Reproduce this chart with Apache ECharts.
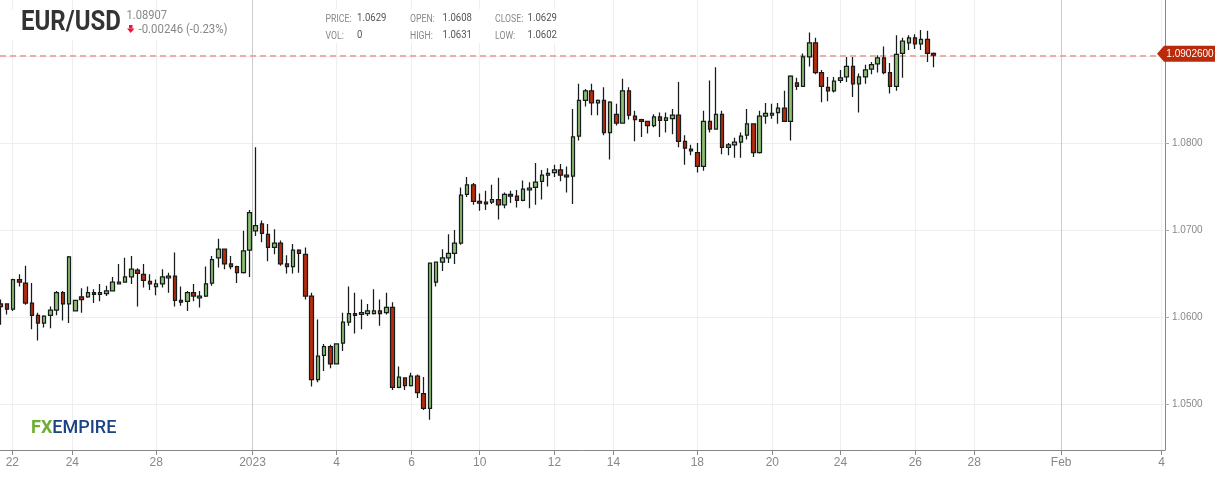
<!DOCTYPE html>
<html>
<head>
<meta charset="utf-8">
<style>html,body{margin:0;padding:0;background:#fff}#chart{width:1215px;height:480px}</style>
<script src="https://cdn.jsdelivr.net/npm/echarts@6/dist/echarts.min.js"></script>
</head>
<body>
<div id="chart"></div>
<script>
// candle values, left to right, one candle every 4 hours
const opens = [
  1.0615,1.0615,1.0609,1.0643,1.0639,1.0616,1.0602,1.0593,1.0602,1.0608,
  1.0628,1.0615,1.0607,1.0623,1.0623,1.0628,1.0626,1.0627,1.0630,1.0638,
  1.0640,1.0646,1.0654,1.0649,1.0641,1.0635,1.0638,1.0645,1.0647,1.0619,
  1.0618,1.0628,1.0622,1.0624,1.0639,1.0668,1.0678,1.0661,1.0658,1.0651,
  1.0677,1.0699,1.0707,1.0695,1.0680,1.0685,1.0661,1.0658,1.0677,1.0672,
  1.0624,1.0528,1.0556,1.0566,1.0546,1.0570,1.0594,1.0604,1.0603,1.0604,
  1.0604,1.0607,1.0605,1.0611,1.0519,1.0530,1.0521,1.0532,1.0512,1.0495,
  1.0640,1.0663,1.0668,1.0673,1.0685,1.0741,1.0752,1.0733,1.0732,1.0732,
  1.0735,1.0729,1.0741,1.0739,1.0734,1.0746,1.0749,1.0756,1.0763,1.0766,
  1.0769,1.0763,1.0762,1.0808,1.0849,1.0860,1.0846,1.0849,1.0812,1.0833,
  1.0823,1.0860,1.0831,1.0827,1.0825,1.0820,1.0830,1.0826,1.0828,1.0832,
  1.0802,1.0793,1.0789,1.0773,1.0825,1.0816,1.0833,1.0795,1.0798,1.0801,
  1.0809,1.0822,1.0789,1.0831,1.0832,1.0835,1.0840,1.0825,1.0869,1.0865,
  1.0899,1.0915,1.0881,1.0864,1.0860,1.0872,1.0876,1.0888,1.0868,1.0876,
  1.0885,1.0891,1.0898,1.0881,1.0865,1.0903,1.0915,1.0921,1.0914,1.0919,1.0903
];
const closes = [
  1.0612,1.0609,1.0643,1.0640,1.0616,1.0602,1.0593,1.0601,1.0608,1.0628,
  1.0615,1.0669,1.0619,1.0620,1.0628,1.0626,1.0628,1.0630,1.0640,1.0640,
  1.0646,1.0655,1.0650,1.0642,1.0638,1.0638,1.0646,1.0647,1.0619,1.0617,
  1.0628,1.0624,1.0624,1.0638,1.0666,1.0678,1.0661,1.0658,1.0651,1.0676,
  1.0720,1.0705,1.0696,1.0680,1.0685,1.0661,1.0658,1.0677,1.0673,1.0624,
  1.0528,1.0555,1.0566,1.0546,1.0569,1.0594,1.0604,1.0602,1.0605,1.0607,
  1.0607,1.0604,1.0611,1.0519,1.0531,1.0521,1.0532,1.0513,1.0495,1.0662,
  1.0663,1.0668,1.0673,1.0685,1.0740,1.0752,1.0733,1.0731,1.0730,1.0735,
  1.0729,1.0741,1.0739,1.0734,1.0747,1.0748,1.0755,1.0763,1.0765,1.0769,
  1.0763,1.0761,1.0807,1.0849,1.0860,1.0846,1.0849,1.0812,1.0847,1.0823,
  1.0860,1.0832,1.0827,1.0825,1.0820,1.0830,1.0826,1.0829,1.0832,1.0802,
  1.0794,1.0791,1.0773,1.0825,1.0816,1.0833,1.0795,1.0798,1.0801,1.0808,
  1.0822,1.0789,1.0831,1.0834,1.0834,1.0840,1.0825,1.0877,1.0865,1.0899,
  1.0915,1.0881,1.0865,1.0860,1.0871,1.0875,1.0888,1.0868,1.0876,1.0884,
  1.0890,1.0898,1.0881,1.0865,1.0902,1.0917,1.0921,1.0914,1.0919,1.0903,1.0901
];
const lows = [
  1.0591,1.0603,1.0607,1.0635,1.0614,1.0586,1.0573,1.0588,1.0587,1.0602,
  1.0596,1.0593,1.0607,1.0605,1.0622,1.0616,1.0618,1.0624,1.0630,1.0638,
  1.0640,1.0638,1.0612,1.0634,1.0631,1.0625,1.0634,1.0628,1.0612,1.0613,
  1.0607,1.0618,1.0611,1.0623,1.0636,1.0657,1.0655,1.0655,1.0639,1.0650,
  1.0646,1.0693,1.0686,1.0664,1.0672,1.0659,1.0650,1.0650,1.0651,1.0620,
  1.0520,1.0525,1.0538,1.0541,1.0546,1.0561,1.0590,1.0581,1.0586,1.0601,
  1.0603,1.0590,1.0603,1.0516,1.0518,1.0516,1.0520,1.0507,1.0493,1.0482,
  1.0635,1.0653,1.0662,1.0661,1.0683,1.0738,1.0729,1.0722,1.0723,1.0730,
  1.0712,1.0725,1.0731,1.0726,1.0733,1.0725,1.0729,1.0735,1.0750,1.0761,
  1.0756,1.0743,1.0730,1.0803,1.0842,1.0832,1.0832,1.0809,1.0781,1.0820,
  1.0822,1.0827,1.0802,1.0807,1.0811,1.0818,1.0807,1.0812,1.0810,1.0795,
  1.0775,1.0786,1.0766,1.0768,1.0812,1.0816,1.0787,1.0786,1.0783,1.0783,
  1.0804,1.0784,1.0788,1.0822,1.0828,1.0822,1.0825,1.0803,1.0861,1.0865,
  1.0888,1.0879,1.0847,1.0848,1.0858,1.0869,1.0870,1.0853,1.0835,1.0868,
  1.0879,1.0881,1.0879,1.0857,1.0860,1.0875,1.0907,1.0908,1.0907,1.0893,1.0887
];
const highs = [
  1.0620,1.0615,1.0644,1.0649,1.0659,1.0639,1.0605,1.0602,1.0612,1.0630,
  1.0630,1.0670,1.0619,1.0633,1.0635,1.0632,1.0638,1.0636,1.0646,1.0661,
  1.0668,1.0670,1.0656,1.0661,1.0649,1.0643,1.0655,1.0651,1.0674,1.0635,
  1.0630,1.0638,1.0630,1.0658,1.0670,1.0690,1.0678,1.0670,1.0659,1.0699,
  1.0723,1.0795,1.0711,1.0707,1.0701,1.0688,1.0671,1.0684,1.0678,1.0680,
  1.0628,1.0597,1.0569,1.0568,1.0569,1.0605,1.0635,1.0628,1.0620,1.0615,
  1.0632,1.0620,1.0628,1.0617,1.0543,1.0530,1.0536,1.0534,1.0531,1.0662,
  1.0663,1.0678,1.0695,1.0700,1.0749,1.0761,1.0754,1.0742,1.0745,1.0752,
  1.0760,1.0743,1.0745,1.0746,1.0757,1.0755,1.0777,1.0769,1.0771,1.0775,
  1.0776,1.0773,1.0839,1.0868,1.0862,1.0868,1.0850,1.0864,1.0848,1.0845,
  1.0874,1.0864,1.0837,1.0828,1.0825,1.0833,1.0835,1.0835,1.0839,1.0870,
  1.0809,1.0798,1.0800,1.0837,1.0872,1.0887,1.0837,1.0800,1.0806,1.0812,
  1.0839,1.0822,1.0837,1.0846,1.0845,1.0846,1.0860,1.0878,1.0875,1.0903,
  1.0927,1.0921,1.0884,1.0876,1.0876,1.0884,1.0899,1.0899,1.0880,1.0890,
  1.0893,1.0901,1.0911,1.0892,1.0924,1.0921,1.0924,1.0925,1.0930,1.0929,1.0904
];

// date ticks sit in candle units, they do not always land on a candle
const dateTicks = [1.87,11.52,25.02,40.49,53.99,66.05,77.02,89.04,98.53,112.0,124.06,135.0,147.05,156.53,170.5,186.65];
const dateLabels = ['22','24','28','2023','4','6','10','12','14','18','20','24','26','28','Feb','4'];
const monthTicks = ['2023','Feb'];

const priceTicks = [1.05,1.06,1.07,1.08,1.09];
const priceLabels = [1.05,1.06,1.07,1.08];
const lastPrice = 1.09026;

const candles = opens.map((o, i) => [i, o, closes[i], lows[i], highs[i]]);

const labelGrey = '#888';
const valueGrey = '#555';
const font = 'Roboto, sans-serif';

// header text is condensed in the original, roboto gets squeezed to fit
function headerText(x, y, text, size, color, squeeze, extra) {
    return {
        type: 'text', x: x, y: y, z: 10, scaleX: squeeze, silent: true,
        style: Object.assign({ text: text, fontSize: size, fontFamily: font, fill: color }, extra)
    };
}

// white plates behind the header, they hide the date grid lines
function plate(x, y, width, height) {
    return {
        type: 'rect', z: 1, silent: true,
        shape: { x: x, y: y, width: width, height: height },
        style: { fill: '#fff' }
    };
}

const chart = echarts.init(document.getElementById('chart'));

const option = {
    animation: false,
    backgroundColor: '#fff',
    grid: { left: 0, right: 50, top: 0, bottom: 30 },
    xAxis: {
        type: 'value',
        min: -0.108,
        max: 187.19,
        axisLine: { onZero: false, lineStyle: { color: '#888', width: 1 } },
        axisTick: { customValues: dateTicks, length: 5, lineStyle: { color: '#888' } },
        axisLabel: {
            customValues: dateTicks,
            formatter: v => dateLabels[dateTicks.indexOf(v)],
            color: '#888', fontSize: 12, margin: 7, fontFamily: 'Liberation Sans'
        },
        splitLine: {
            show: true,
            lineStyle: { color: dateLabels.map(l => monthTicks.includes(l) ? '#ccc' : '#eee') }
        }
    },
    yAxis: {
        type: 'value',
        position: 'right',
        min: 1.04471,
        max: 1.09644,
        axisLine: { show: true, onZero: false, lineStyle: { color: '#888', width: 1 } },
        axisTick: { show: true, customValues: priceTicks, length: 4, lineStyle: { color: '#aaa' } },
        axisLabel: {
            customValues: priceLabels,
            formatter: v => v.toFixed(4),
            color: '#888', fontSize: 10, margin: 7, fontFamily: 'Liberation Sans'
        },
        splitLine: { show: true, lineStyle: { color: '#eee' } }
    },
    series: [{
        type: 'candlestick',
        data: candles,
        barWidth: 4,
        clip: false,
        itemStyle: {
            color: '#8cbf72',
            color0: '#b92b0b',
            borderColor: '#161c1c',
            borderColor0: '#161c1c',
            borderColorDoji: '#161c1c',
            borderWidth: 1.25
        },
        markLine: {
            silent: true,
            symbol: 'none',
            z: 1,
            label: { show: false },
            lineStyle: { color: '#e9ada3', width: 2, type: [6, 4] },
            data: [{ yAxis: lastPrice }]
        },
        markPoint: {
            silent: true,
            data: [{
                coord: [187.19, lastPrice],
                symbol: 'path://M0 8 L7 0 L58 0 L58 16 L7 16 Z',
                symbolKeepAspect: false,
                symbolSize: [58, 16],
                symbolOffset: [21, 0],
                itemStyle: { color: '#b92b0b' },
                label: {
                    show: true,
                    position: 'inside',
                    offset: [4, 0],
                    formatter: lastPrice.toFixed(7),
                    color: '#fff',
                    fontSize: 10,
                    fontFamily: 'Liberation Sans'
                }
            }]
        }
    }],
    graphic: [
        plate(2, 10, 230, 30),
        plate(320, 9, 245, 34),
        headerText(21, 10, 'EUR/USD', 27, '#333', 0.89, { fontWeight: 'bold' }),
        headerText(126.5, 10, '1.08907', 12, labelGrey, 0.93),
        headerText(138.5, 23.5, '-0.00246 (-0.23%)', 12, labelGrey, 0.95),
        {
            type: 'polygon', silent: true, z: 10,
            shape: { points: [[129, 28.5], [132.5, 28.5], [132.5, 25], [129, 25]] },
            style: { fill: '#f0143c' }
        },
        {
            type: 'polygon', silent: true, z: 10,
            shape: { points: [[127, 28.5], [134.5, 28.5], [130.75, 33]] },
            style: { fill: '#f0143c' }
        },
        headerText(325.5, 14.3, 'PRICE:', 10, labelGrey, 0.87),
        headerText(357, 12.5, '1.0629', 11, valueGrey, 0.87),
        headerText(325.5, 31.7, 'VOL:', 10, labelGrey, 0.87),
        headerText(357, 29.5, '0', 11, valueGrey, 0.87),
        headerText(410, 14.3, 'OPEN:', 10, labelGrey, 0.87),
        headerText(442.5, 12.5, '1.0608', 11, valueGrey, 0.87),
        headerText(410, 31.7, 'HIGH:', 10, labelGrey, 0.87),
        headerText(442.5, 29.5, '1.0631', 11, valueGrey, 0.87),
        headerText(495, 14.3, 'CLOSE:', 10, labelGrey, 0.87),
        headerText(527.5, 12.5, '1.0629', 11, valueGrey, 0.87),
        headerText(495, 31.7, 'LOW:', 10, labelGrey, 0.87),
        headerText(527.5, 29.5, '1.0602', 11, valueGrey, 0.87),
        {
            type: 'text', x: 31, y: 419, z: 10, silent: true,
            style: {
                text: '{fx|FX}{emp|EMPIRE}',
                rich: {
                    fx: { fontSize: 18, fontWeight: 'bold', fontFamily: font, fill: '#6cb033', color: '#6cb033' },
                    emp: { fontSize: 18, fontWeight: 500, fontFamily: font, fill: '#1c4482', color: '#1c4482' }
                }
            }
        }
    ]
};

chart.setOption(option);
</script>
</body>
</html>
